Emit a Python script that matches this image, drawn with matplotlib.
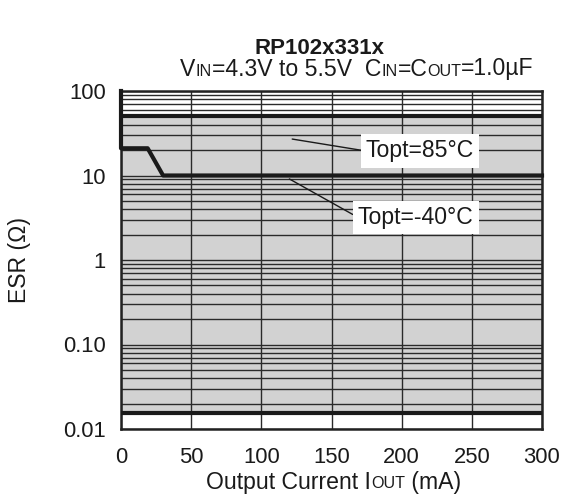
import numpy as np
import matplotlib
matplotlib.use("Agg")
import matplotlib.pyplot as plt
from matplotlib.offsetbox import TextArea, HPacker, AnchoredOffsetbox

plt.rcParams['font.family'] = ['Liberation Sans', 'DejaVu Sans']

# stable region boundaries (ESR, ohm)
region_x = [0, 300]
esr_upper = [50, 50]
esr_lower = [0.0155, 0.0155]

# Topt=-40C lower boundary
curve_x = [0, 0, 19, 30, 300]
curve_esr = [100, 21, 21, 10, 10]

x_ticks = [0, 50, 100, 150, 200, 250, 300]
y_ticks = [0.01, 0.1, 1, 10, 100]
y_labels = ["0.01", "0.10", "1", "10", "100"]

FS_TICK = 15.8
FS = 16.6
FS_SMALL = 11.6
INK = '#1a1a1a'

fig = plt.figure(figsize=(5.65, 4.99), dpi=100)
ax = fig.add_axes([121 / 565, 1 - 429 / 499, 421 / 565, 338 / 499])

ax.set_yscale('log')
ax.set_xlim(0, 300)
ax.set_ylim(0.01, 100)

ax.fill_between(region_x, esr_lower, esr_upper, color='#d2d2d2', zorder=0)

# grid: minor log lines + vertical major lines
ax.set_xticks(x_ticks)
ax.set_yticks(y_ticks)
ax.set_yticklabels(y_labels)
ax.yaxis.set_minor_locator(matplotlib.ticker.LogLocator(base=10, subs=np.arange(2, 10)))
ax.yaxis.set_minor_formatter(matplotlib.ticker.NullFormatter())
ax.grid(True, which='both', axis='y', color='#2a2a2a', lw=1.0, zorder=1)
ax.grid(True, which='major', axis='x', color='#2a2a2a', lw=1.0, zorder=1)
ax.tick_params(which='both', length=0, labelsize=FS_TICK, colors=INK)
ax.tick_params(axis='y', pad=11)
ax.tick_params(axis='x', pad=13)
for s in ax.spines.values():
    s.set_linewidth(1.8)
    s.set_color('#222222')

ax.plot(region_x, esr_upper, color=INK, lw=3.0, zorder=3, solid_capstyle='butt')
ax.plot(region_x, esr_lower, color=INK, lw=3.0, zorder=3, solid_capstyle='butt')
ax.plot(curve_x, curve_esr, color=INK, lw=3.0, zorder=3, clip_on=False)

bbox = dict(boxstyle='square,pad=0.22', fc='white', ec='none')
ax.annotate("Topt=85°C", xy=(122, 27), xytext=(213, 19.5), fontsize=FS,
            ha='center', va='center', bbox=bbox, zorder=5, color=INK,
            arrowprops=dict(arrowstyle='-', color=INK, lw=1.0,
                            shrinkA=0, shrinkB=0, relpos=(0, 0.5)))
ax.annotate("Topt=-40°C", xy=(120, 9.1), xytext=(210, 3.2), fontsize=FS,
            ha='center', va='center', bbox=bbox, zorder=5, color=INK,
            arrowprops=dict(arrowstyle='-', color=INK, lw=1.0,
                            shrinkA=0, shrinkB=0, relpos=(0, 0.5)))

ax.set_ylabel("ESR (\u03a9)", fontsize=FS, color=INK)
ax.yaxis.set_label_coords(-(121 - 31) / 421, 0.5)

fig.text(320 / 565, 1 - 48 / 499, "RP102x331x", fontsize=16, fontweight='bold',
         ha='center', va='center', color=INK)


def mixed(parts, big=FS, small=FS_SMALL):
    items = []
    for txt, is_small in parts:
        items.append(TextArea(txt, textprops=dict(fontsize=small if is_small else big,
                                                  color=INK)))
    return HPacker(children=items, align='baseline', pad=0, sep=0)


sub = mixed([("V", False), ("IN", True), ("=4.3V to 5.5V  C", False), ("IN", True),
             ("=C", False), ("OUT", True), ("=1.0\u00b5F", False)])
fig.add_artist(AnchoredOffsetbox(loc='center', child=sub, frameon=False,
                                 bbox_to_anchor=(357 / 565, 1 - 69 / 499),
                                 bbox_transform=fig.transFigure, pad=0, borderpad=0))

xl = mixed([("Output Current I", False), ("OUT", True), (" (mA)", False)])
fig.add_artist(AnchoredOffsetbox(loc='center', child=xl, frameon=False,
                                 bbox_to_anchor=(334 / 565, 1 - 482 / 499),
                                 bbox_transform=fig.transFigure, pad=0, borderpad=0))

fig.savefig("out.png", dpi=100)
